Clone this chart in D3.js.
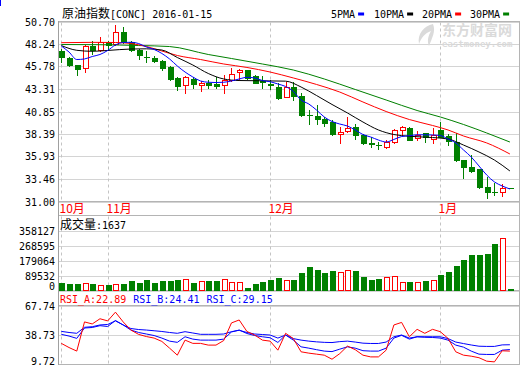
<!DOCTYPE html>
<meta charset="utf-8">
<script src="https://d3js.org/d3.v7.min.js"></script>
<style>
  body { margin: 0; background: #fff; }
  text { font-family: "DejaVu Sans Mono", "Liberation Mono", monospace; font-size: 10px; }
  .cjk { font-family: "Noto Sans CJK SC", sans-serif; }
</style>
<svg width="520" height="365"></svg>
<script>

// daily candles, 2015-10-23 .. 2016-01-15
var opens  = [47.47,46.71,45.97,45.61,47.99,47.61,48.42,48.27,49.55,48.46,47.61,46.85,46.71,46.41,45.69,44.48,43.75,44.41,43.78,44.02,
              43.83,43.78,44.30,45.17,45.39,44.70,44.16,43.83,43.50,42.47,43.50,42.60,40.50,40.36,40.03,39.65,38.44,38.77,39.12,38.28,
              37.35,37.22,36.96,37.51,38.83,39.04,37.92,38.46,37.84,38.83,38.22,37.55,35.54,34.81,34.52,32.62,32.07,32.01,32.46];
var highs  = [47.69,46.85,45.97,48.16,48.53,48.97,48.53,50.28,50.13,48.60,47.72,47.44,46.89,46.52,45.80,44.66,44.74,44.63,44.19,44.30,
              44.63,44.85,45.61,45.50,45.42,44.85,44.77,44.26,43.97,44.11,44.11,42.87,41.01,41.56,40.25,39.92,39.19,40.22,39.45,38.39,
              38.06,37.51,37.68,38.88,39.26,39.10,38.77,38.50,39.01,39.65,38.44,38.46,35.54,36.14,34.52,33.71,32.99,32.88,32.46];
var lows   = [46.27,45.83,44.88,45.17,47.14,47.44,47.55,48.16,48.35,47.44,46.60,46.23,46.23,45.42,44.30,43.20,42.91,43.39,43.13,43.39,
              43.39,42.84,44.19,44.30,44.41,43.94,43.39,43.31,42.22,42.44,42.11,40.41,39.45,39.45,39.26,38.28,37.44,38.61,37.81,37.29,
              37.00,36.75,36.86,37.35,38.28,37.68,37.73,37.55,37.37,38.06,37.18,35.47,33.61,34.26,32.45,31.42,31.71,31.64,32.46];
var closes = [46.78,45.91,45.53,48.05,47.58,48.42,48.10,49.55,48.42,47.55,47.00,46.78,46.41,45.61,44.41,43.67,44.68,43.89,43.94,43.75,
              43.64,44.26,44.92,45.36,44.48,44.02,44.08,43.70,42.38,43.56,42.55,40.47,40.43,40.03,39.56,38.35,38.66,39.04,38.28,37.44,
              37.26,37.15,37.46,38.83,39.10,37.73,38.30,38.06,38.28,38.11,37.57,35.54,34.74,34.37,32.62,32.01,31.99,32.45,32.46];
var volumes = [45100,39100,39100,45100,39100,31300,33100,39100,39100,57200,45100,63200,47000,57200,57200,65000,69200,45100,57200,57200,
               57200,69200,51200,51200,15000,39100,51200,63200,75200,63200,63200,105000,141000,123000,105000,117000,111000,123000,117000,81000,
               63000,69000,81000,87000,51000,51000,51000,57000,63000,93000,111000,147000,184000,214000,214000,220000,280000,314000,1637];

// moving averages: [day index, value]
var ma5 = [[0,48.02],[1,47.36],[2,46.54],[3,46.60],[4,46.87],[5,47.09],[6,47.53],[7,48.13],[8,48.40],[9,48.43],[10,48.29],
           [11,47.91],[12,47.64],[13,47.20],[14,46.60],[15,45.83],[16,45.17],[17,44.63],[18,44.19],[19,44.05],[20,44.02],
           [21,44.05],[22,44.19],[23,44.41],[24,44.59],[25,44.52],[26,44.24],[27,44.11],[28,43.86],[29,43.59],[30,43.05],
           [31,42.11],[32,41.67],[33,41.01],[34,40.25],[35,39.76],[36,39.48],[37,39.26],[38,38.83],[39,38.33],[40,38.06],
           [41,37.73],[42,37.51],[43,37.79],[44,38.11],[45,38.20],[46,38.30],[47,38.30],[48,38.28],[49,38.22],[50,37.84],
           [51,37.41],[52,36.64],[53,35.87],[54,34.89],[55,33.90],[56,33.14],[57,32.70],[58,32.37]];
var ma10 = [[0,48.07],[2,47.55],[4,47.44],[6,47.53],[9,47.69],[11,47.71],[13,47.58],[15,46.76],[17,45.94],[19,45.01],
            [21,44.41],[23,44.24],[26,44.21],[29,44.17],[31,43.53],[33,42.60],[35,41.62],[37,40.69],[39,39.70],[41,38.83],
            [43,38.33],[45,38.14],[48,38.00],[50,37.84],[52,37.18],[54,36.42],[56,35.54],[58,34.34]];
var ma20 = [[0,48.38],[4,48.42],[7,48.40],[9,48.29],[11,47.96],[13,47.47],[15,46.98],[18,46.54],[21,46.05],[24,45.67],
            [27,45.17],[30,44.52],[33,43.81],[36,42.98],[39,41.89],[42,40.85],[45,39.97],[48,39.32],[50,38.83],[52,38.17],
            [55,37.41],[58,36.20]];
var ma30 = [[0,48.18],[5,48.16],[10,48.07],[14,47.96],[19,47.09],[22,46.65],[26,46.05],[30,45.39],[34,44.41],[38,43.26],
            [42,42.11],[46,40.96],[49,40.25],[52,39.43],[55,38.50],[58,37.51]];

// RSI 6 / 12 / 24
var rsiA = [30.5,26.4,22.9,51.6,49.6,54.7,52.6,61.2,51.6,43.6,39.3,37.2,35.7,32.4,25.8,18.9,33.7,30.5,30.5,28.8,
            28.8,33.3,50.6,53.5,42.2,38.7,33.7,32.7,23.8,40.4,35.2,22.2,20.9,19.9,18.9,14.9,20.4,27.8,24.3,18.9,
            17.2,17.2,23.8,48.6,51.1,37.0,44.3,40.4,44.3,42.0,35.4,22.2,18.9,17.9,16.4,13.0,12.3,23.2,22.89];
var rsiB = [39.4,37.7,35.4,45.6,46.1,47.9,47.1,53.0,48.6,43.6,41.2,39.7,38.2,35.7,32.7,31.5,37.0,34.7,33.7,33.7,
            33.7,34.7,41.7,43.6,40.2,38.2,37.0,36.0,31.4,38.7,33.7,27.1,25.8,24.3,22.9,22.4,24.8,27.1,25.8,23.3,
            22.9,22.9,25.8,35.7,38.4,34.7,37.0,36.5,36.3,35.7,33.7,28.8,26.8,22.9,19.9,19.6,19.6,23.8,24.41];
var rsiC = [42.3,41.2,40.4,46.3,46.9,48.6,49.1,52.6,48.6,45.1,44.1,43.6,42.9,42.2,41.2,40.4,42.0,40.7,39.4,39.4,
            39.4,39.7,42.0,43.4,41.2,39.7,39.2,38.7,35.7,38.7,35.2,33.7,32.7,32.0,31.5,31.3,32.2,32.7,31.8,30.7,
            30.4,30.4,31.8,37.0,38.7,35.7,37.0,37.0,37.0,37.0,35.2,31.8,30.3,28.9,27.7,27.5,27.5,29.0,29.15];

var priceTicks = ["50.70","48.24","45.78","43.31","40.85","38.39","35.93","33.46","31.00"];
var volTicks = ["358127","268595","179064","89532","0"];
var rsiTicks = ["67.74","38.73","9.72"];
var monthIdx = [0, 6, 27, 49];
var monthNames = ["10月", "11月", "12月", "1月"];

var up = "#ff0000", down = "#008000", gridC = "#d4d4d4", axisC = "#a0a0a0";
var left = 58.5, right = 519.5;
var panels = [[21.5, 201.5], [215.5, 290.5], [305.5, 364.5]];

var svg = d3.select("svg");

var x = d3.scaleLinear().domain([0, 58]).range([61.3, 509.9]);
var y = d3.scaleLinear().domain([31, 50.70]).range([201.5, 21.5]);
var yv = d3.scaleLinear().domain([0, 358127]).range([290.5, 231]);
var yr = d3.scaleLinear().domain([9.72, 67.74]).range([364.5, 305.5]);

function cx(i) { return Math.round(x(i)) + 0.5; }
function py(v) { return Math.round(v) + 0.5; }

// horizontal grid lines
function grid(scale, ticks) {
  svg.append("g").selectAll("line").data(ticks).enter().append("line")
    .attr("x1", left).attr("x2", right)
    .attr("y1", function (d) { return py(scale(+d)); })
    .attr("y2", function (d) { return py(scale(+d)); })
    .attr("stroke", gridC);
}
grid(y, priceTicks);
grid(yv, volTicks);
grid(yr, rsiTicks);

// panel borders and month separators inside each panel
panels.forEach(function (p) {
  svg.append("line").attr("x1", left).attr("x2", right).attr("y1", p[0]).attr("y2", p[0]).attr("stroke", "#b4b4b4");
  svg.append("line").attr("x1", left).attr("x2", right).attr("y1", p[1]).attr("y2", p[1]).attr("stroke", "#b4b4b4");
  svg.append("g").selectAll("line").data(monthIdx).enter().append("line")
    .attr("x1", function (d) { return cx(d); }).attr("x2", function (d) { return cx(d); })
    .attr("y1", p[0] + 1).attr("y2", p[1] - 1)
    .attr("stroke", "#c4c4c4").attr("stroke-dasharray", "3,3");
});
svg.append("line").attr("x1", left).attr("x2", left).attr("y1", 21).attr("y2", 365).attr("stroke", axisC);
svg.append("line").attr("x1", right).attr("x2", right).attr("y1", 21).attr("y2", 365).attr("stroke", "#b4b4b4");

// watermark
var wm = svg.append("g").attr("fill", "#dadada");
wm.append("path").attr("d", "M433,24 C424,26 417,34 419,44 C421,38 425,33 431,31 C428,36 427,41 429,46 C432,38 436,31 433,24 Z");
wm.append("text").attr("class", "cjk").attr("x", 442).attr("y", 35)
  .style("font-size", "14px").style("font-weight", "bold").text("东方财富网");
wm.append("text").attr("x", 442).attr("y", 47)
  .style("font-size", "9px").style("font-weight", "bold").text("eastmoney.com");

// candles
var n = closes.length;
var idx = d3.range(n);
var cg = svg.append("g").attr("shape-rendering", "crispEdges");
idx.forEach(function (i) {
  var isUp = closes[i] > opens[i];
  var col = isUp ? up : down;
  var xc = cx(i);
  cg.append("line").attr("x1", xc).attr("x2", xc)
    .attr("y1", Math.round(y(highs[i]))).attr("y2", Math.round(y(lows[i])) + 1)
    .attr("stroke", col);
  var top = Math.round(y(Math.max(opens[i], closes[i])));
  var bot = Math.round(y(Math.min(opens[i], closes[i])));
  if (bot - top < 1) {
    cg.append("line").attr("x1", xc - 3).attr("x2", xc + 3)
      .attr("y1", top + 0.5).attr("y2", top + 0.5).attr("stroke", col);
  } else if (isUp) {
    cg.append("rect").attr("x", xc - 2.5).attr("y", top + 0.5)
      .attr("width", 5).attr("height", bot - top)
      .attr("fill", "#fff").attr("stroke", col);
  } else {
    cg.append("rect").attr("x", xc - 3).attr("y", top)
      .attr("width", 6).attr("height", bot - top + 1)
      .attr("fill", col);
  }
});

// moving averages
var maLine = d3.line().x(function (d) { return x(d[0]); }).y(function (d) { return y(d[1]); }).curve(d3.curveMonotoneX);
[[ma30, "#008000"], [ma20, "#ff0000"], [ma10, "#000000"], [ma5, "#0000ff"]].forEach(function (m) {
  svg.append("path").datum(m[0]).attr("d", maLine)
    .attr("fill", "none").attr("stroke", m[1]).attr("stroke-width", 1);
});

// volume
var vg = svg.append("g").attr("shape-rendering", "crispEdges");
idx.forEach(function (i) {
  var isUp = closes[i] > opens[i];
  var xc = cx(i);
  var top = Math.min(Math.round(yv(volumes[i])), 289);
  if (isUp) {
    vg.append("rect").attr("x", xc - 2.5).attr("y", top + 0.5)
      .attr("width", 5).attr("height", 290 - top)
      .attr("fill", "#fff").attr("stroke", up);
  } else {
    vg.append("rect").attr("x", xc - 3).attr("y", top)
      .attr("width", 6).attr("height", 291 - top)
      .attr("fill", down);
  }
});

// RSI
var rsiLine = d3.line().x(function (d, i) { return x(i); }).y(function (d) { return yr(d); });
[[rsiC, "#0000ff"], [rsiB, "#0000ff"], [rsiA, "#ff0000"]].forEach(function (r) {
  svg.append("path").datum(r[0]).attr("d", rsiLine)
    .attr("fill", "none").attr("stroke", r[1]).attr("stroke-width", 1);
});

// axis labels
function labels(scale, ticks, lastShift) {
  svg.append("g").selectAll("text").data(ticks).enter().append("text")
    .attr("x", 55).attr("text-anchor", "end")
    .attr("y", function (d, i) { return scale(+d) + 4 - (i === ticks.length - 1 ? lastShift : 0); })
    .attr("fill", "#000")
    .text(function (d) { return d; });
}
labels(y, priceTicks, 0);
labels(yv, volTicks, 5);
labels(yr, rsiTicks, 4);

svg.append("g").selectAll("text").data(monthIdx).enter().append("text")
  .attr("class", "cjk").attr("x", function (d) { return cx(d) - 2; }).attr("y", 213)
  .style("font-size", "12px").attr("fill", "#ff0000")
  .text(function (d, i) { return monthNames[i]; });

// titles and legends
var t = svg.append("text").attr("x", 62).attr("y", 17.5).attr("fill", "#000");
t.append("tspan").attr("class", "cjk").style("font-size", "12px").text("原油指数");
t.append("tspan").text("[CONC] 2016-01-15");

var legend = [["5PMA", "#0000ff", 331], ["10PMA", "#000000", 374], ["20PMA", "#ff0000", 422], ["30PMA", "#008000", 470]];
legend.forEach(function (l) {
  var tx = svg.append("text").attr("x", l[2]).attr("y", 17.5).attr("fill", "#000").text(l[0]);
  var w = tx.node().getComputedTextLength();
  svg.append("rect").attr("x", l[2] + w + 3).attr("y", 12.5).attr("width", 6).attr("height", 3).attr("fill", l[1]);
});

var v = svg.append("text").attr("x", 60).attr("y", 228.5).attr("fill", "#000");
v.append("tspan").attr("class", "cjk").style("font-size", "12px").text("成交量");
v.append("tspan").text(":" + volumes[n - 1]);

var r = svg.append("text").attr("x", 60).attr("y", 303);
r.append("tspan").attr("fill", "#ff0000").text("RSI_A:" + rsiA[n - 1].toFixed(2));
r.append("tspan").attr("fill", "#0000ff").attr("dx", 7).text("RSI_B:" + rsiB[n - 1].toFixed(2));
r.append("tspan").attr("fill", "#0000ff").attr("dx", 7).text("RSI_C:" + rsiC[n - 1].toFixed(2));

svg.append("rect").attr("x", 0).attr("y", 0).attr("width", 1).attr("height", 6).attr("fill", "#0000ff");

</script>
